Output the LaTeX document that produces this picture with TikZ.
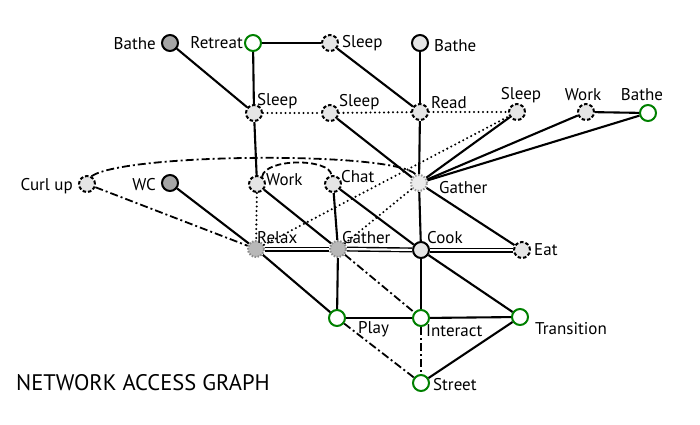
\documentclass[tikz,border=0pt]{standalone}
\usepackage{fontspec}
\setmainfont{PT Sans}
\begin{document}
\begin{tikzpicture}[x=1pt,y=-1pt,
 base/.style={circle, minimum size=16pt, inner sep=0pt, line width=2pt},
 dark/.style={base, draw=black, fill=black!35},
 light/.style={base, draw=black, fill=black!10},
 dsh/.style={base, draw=black, fill=black!10, dash pattern=on 3.5pt off 2pt},
 dtd/.style={base, draw=black!45, fill=black!28, dash pattern=on 1.5pt off 1.5pt},
 dtl/.style={base, draw=black!40, fill=black!8, dash pattern=on 1.5pt off 1.5pt},
 grn/.style={base, draw=green!50!black, fill=white},
 lbl/.style={font=\fontsize{17}{19}\selectfont, inner sep=0pt},
 e/.style={line width=2.1pt},
 edot/.style={line width=2.3pt, line cap=round, dash pattern=on 0pt off 4.5pt},
 edd/.style={line width=1.8pt, dash pattern=on 8pt off 3pt on 2pt off 3pt},
 edsh/.style={line width=1.8pt, dash pattern=on 6pt off 3pt},
 dbl/.style={line width=1.4pt, double, double distance=2.2pt},
]
\useasboundingbox (0,0) rectangle (700,424);
% nodes
\node[dark]  (bathe1) at (170,43) {};
\node[grn]   (retreat) at (253,43) {};
\node[dsh]   (sleep1) at (330,43) {};
\node[light] (bathe2) at (420,43) {};
\node[dsh]   (sleep2) at (254,113) {};
\node[dsh]   (sleep3) at (330,113) {};
\node[dsh]   (read) at (420,112) {};
\node[dsh]   (sleep4) at (517,112) {};
\node[dsh]   (work1) at (586,112) {};
\node[grn]   (bathe3) at (648,113) {};
\node[dsh]   (curl) at (87,184) {};
\node[dark]  (wc) at (170,183) {};
\node[dsh]   (work2) at (257,184) {};
\node[dsh]   (chat) at (333,184) {};
\node[dtl]   (gather1) at (419,183) {};
\node[dtd]   (relax) at (256,249) {};
\node[dtd]   (gather2) at (338,249) {};
\node[light] (cook) at (421,250) {};
\node[dsh]   (eat) at (522,250) {};
\node[grn]   (play) at (337,318) {};
\node[grn]   (interact) at (421,318) {};
\node[grn]   (transition) at (520,317) {};
\node[grn]   (street) at (421,383) {};
% labels
\node[lbl, anchor=east] (l1) at (156,44) {Bathe};
\node[lbl, anchor=east] (l2) at (243,43) {Retreat};
\node[lbl, anchor=west] (l3) at (342,43) {Sleep};
\node[lbl, anchor=west] (l4) at (434,46) {Bathe};
\node[lbl, anchor=west] (l5) at (257,101) {Sleep};
\node[lbl, anchor=west] (l6) at (339,102) {Sleep};
\node[lbl, anchor=west] (l7) at (431,103) {Read};
\node[lbl] (l8) at (521,95) {Sleep};
\node[lbl] (l9) at (583,95) {Work};
\node[lbl] (l10) at (642,95) {Bathe};
\node[lbl, anchor=east] (l11) at (73,186) {Curl up};
\node[lbl, anchor=east] (l12) at (156,185) {WC};
\node[lbl, anchor=west] (l13) at (266,180) {Work};
\node[lbl, anchor=west] (l14) at (341,177) {Chat};
\node[lbl, anchor=west] (l15) at (439,188) {Gather};
\node[lbl, anchor=west] (l16) at (257,238) {Relax};
\node[lbl, anchor=west] (l17) at (342,238) {Gather};
\node[lbl, anchor=west] (l18) at (427,238) {Cook};
\node[lbl, anchor=west] (l19) at (534,250) {Eat};
\node[lbl, anchor=west] (l20) at (358,329) {Play};
\node[lbl, anchor=west] (l21) at (426,331) {Interact};
\node[lbl, anchor=west] (l22) at (535,329) {Transition};
\node[lbl, anchor=west] (l23) at (433,385) {Street};
\node[font=\fontsize{22.5}{24}\selectfont, inner sep=0pt, anchor=west] (title) at (16,383) {NETWORK ACCESS GRAPH};
% solid edges
\draw[e] (bathe1) -- (sleep2);
\draw[e] (retreat) -- (sleep1);
\draw[e] (retreat) -- (sleep2);
\draw[e] (sleep1) -- (read);
\draw[e] (bathe2) -- (read);
\draw[e] (sleep3) -- (gather1);
\draw[e] (read) -- (gather1);
\draw[e] (sleep2) -- (work2);
\draw[e] (gather1) -- (sleep4);
\draw[e] (gather1) -- (work1);
\draw[e] (gather1) -- (bathe3);
\draw[e] (work1) -- (bathe3);
\draw[e] (work2) -- (gather2);
\draw[e] (chat) -- (gather2);
\draw[e] (chat) -- (cook);
\draw[e] (gather1) -- (cook);
\draw[e] (gather1) -- (eat);
\draw[e] (wc) -- (relax);
\draw[e] (relax) -- (play);
\draw[e] (gather2) -- (play);
\draw[e] (cook) -- (interact);
\draw[e] (cook) -- (transition);
\draw[e] (play) -- (interact);
\draw[e] (interact) -- (transition);
\draw[e] (transition) -- (street);
% dotted edges
\draw[edot] (sleep2) -- (sleep3);
\draw[edot] (sleep3) -- (read);
\draw[edot] (read) -- (sleep4);
\draw[edot] (relax) -- (sleep4);
\draw[edot] (gather2) -- (gather1);
\draw[edot] (work2) -- (relax);
% dash-dot edges
\draw[edd] (curl) -- (relax);
\draw[edd] (curl.60) .. controls (125,153) and (395,151) .. (gather1.110);
\draw[edsh] (work2.55) .. controls (265,158) and (330,158) .. (chat.100);
\draw[edd] (gather2) -- (interact);
\draw[edd] (play) -- (street);
\draw[edd] (interact) -- (street);
% double edges
\draw[dbl] (relax) -- (gather2);
\draw[dbl] (gather2) -- (cook);
\draw[dbl] (cook) -- (eat);
\end{tikzpicture}
\end{document}
